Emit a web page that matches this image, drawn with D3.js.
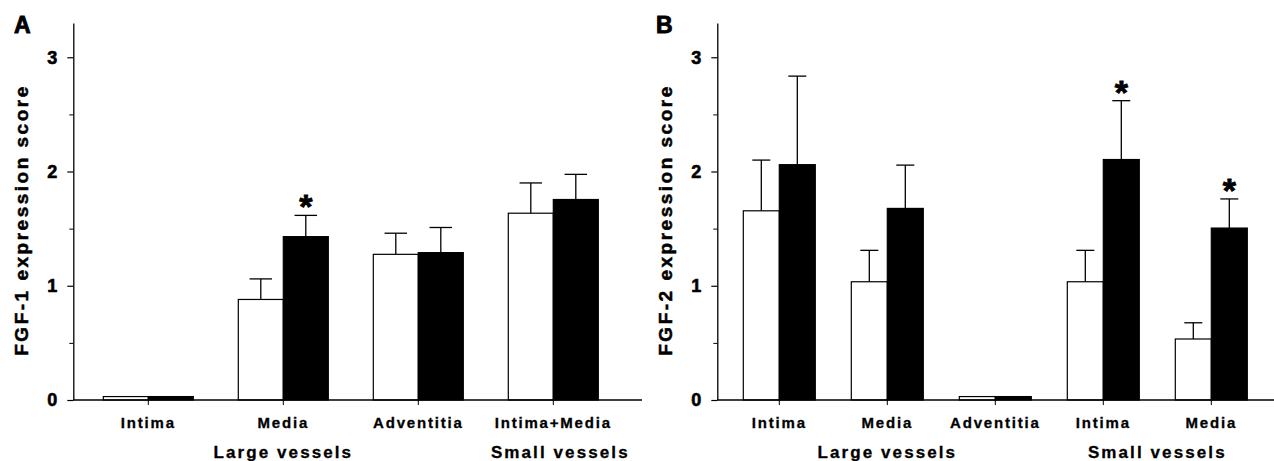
<!DOCTYPE html>
<html>
<head>
<meta charset="utf-8">
<script src="https://cdn.jsdelivr.net/npm/d3@7"></script>
<style>
  body { margin: 0; background: #fff; }
  svg { display: block; font-family: "Liberation Sans", Arial, sans-serif; }
</style>
</head>
<body>
<div id="chart"></div>
<script>
// ---- data ----
var fgf1Categories = ["Intima", "Media", "Adventitia", "Intima+Media"];
var fgf1Groups = ["Large vessels", "Large vessels", "Large vessels", "Small vessels"];
var fgf1Control = [0.03, 0.88, 1.275, 1.635];
var fgf1ControlErr = [0, 0.18, 0.185, 0.265];
var fgf1Treated = [0.03, 1.43, 1.29, 1.755];
var fgf1TreatedErr = [0, 0.186, 0.22, 0.22];
var fgf1Signif = [false, true, false, false];

var fgf2Categories = ["Intima", "Media", "Adventitia", "Intima", "Media"];
var fgf2Groups = ["Large vessels", "Large vessels", "Large vessels", "Small vessels", "Small vessels"];
var fgf2Control = [1.656, 1.035, 0.03, 1.035, 0.534];
var fgf2ControlErr = [0.444, 0.275, 0, 0.275, 0.142];
var fgf2Treated = [2.06, 1.677, 0.03, 2.105, 1.505];
var fgf2TreatedErr = [0.775, 0.379, 0, 0.515, 0.255];
var fgf2Signif = [false, false, false, true, true];

var yMajorTicks = [0, 1, 2, 3];
var yMinorTicks = [0.5, 1.5, 2.5];
var seriesKeys = ["control", "treated"];

var W = 1274, H = 461;
var svg = d3.select('#chart').append('svg')
    .attr('width', W)
    .attr('height', H);

function drawPanel(opt) {
    var g = svg.append('g').attr('class', 'panel-' + opt.letter);

    var y = d3.scaleLinear()
        .domain([0, 3.3])
        .range([400, 23]);

    var idx = d3.range(opt.categories.length);
    var x = d3.scaleBand()
        .domain(idx)
        .range([opt.bandStart, opt.bandStart + opt.step * idx.length])
        .paddingInner(1 / 3)
        .paddingOuter(1 / 6);

    var xSub = d3.scaleBand()
        .domain(seriesKeys)
        .range([0, x.bandwidth()]);

    var fills = { control: '#fff', treated: '#000' };

    var rows = [];
    idx.forEach(function(i) {
        rows.push({ i: i, key: 'control', v: opt.control[i], e: opt.controlErr[i], sig: false });
        rows.push({ i: i, key: 'treated', v: opt.treated[i], e: opt.treatedErr[i], sig: opt.signif[i] });
    });

    // error bars (upper only)
    var eb = g.append('g').attr('class', 'errbars');
    rows.filter(function(d) { return d.e > 0; }).forEach(function(d) {
        var cx = x(d.i) + xSub(d.key) + xSub.bandwidth() / 2;
        var half = xSub.bandwidth() / 4;
        eb.append('line')
            .attr('x1', cx).attr('x2', cx)
            .attr('y1', y(d.v)).attr('y2', y(d.v + d.e))
            .attr('stroke', '#000').attr('stroke-width', 1.3);
        eb.append('line')
            .attr('x1', cx - half).attr('x2', cx + half)
            .attr('y1', y(d.v + d.e)).attr('y2', y(d.v + d.e))
            .attr('stroke', '#000').attr('stroke-width', 1.3);
        if (d.sig) {
            eb.append('text')
                .attr('x', cx)
                .attr('y', y(d.v + d.e) + 3)
                .attr('text-anchor', 'middle')
                .attr('font-size', 34)
                .attr('font-weight', 'bold')
                .attr('stroke', '#000')
                .attr('stroke-width', 0.8)
                .text('*');
        }
    });

    g.append('g').selectAll('rect')
        .data(rows)
        .enter().append('rect')
        .attr('x', function(d) { return x(d.i) + xSub(d.key); })
        .attr('y', function(d) { return y(d.v); })
        .attr('width', xSub.bandwidth())
        .attr('height', function(d) { return y(0) - y(d.v); })
        .attr('fill', function(d) { return fills[d.key]; })
        .attr('stroke', '#000')
        .attr('stroke-width', 1.2);

    // y axis
    var yAxis = g.append('g')
        .attr('transform', 'translate(' + opt.axisX + ',0)')
        .call(d3.axisLeft(y).tickValues(yMajorTicks).tickSize(6).tickSizeOuter(0).tickPadding(10)
            .tickFormat(d3.format('d')));
    yAxis.selectAll('text')
        .attr('font-size', 18)
        .attr('font-weight', 'bold')
        .attr('font-family', '"Liberation Sans", Arial, sans-serif')
        .attr('fill', '#000')
        .attr('stroke', '#000')
        .attr('stroke-width', 0.6);
    yAxis.select('.domain').attr('stroke-width', 1.3);
    yAxis.selectAll('.tick line').attr('stroke-width', 1.2);

    g.append('g')
        .attr('transform', 'translate(' + opt.axisX + ',0)')
        .call(d3.axisLeft(y).tickValues(yMinorTicks).tickSize(4).tickFormat(''))
        .call(function(a) { a.select('.domain').remove(); });

    // x axis
    var xAxis = g.append('g')
        .attr('transform', 'translate(0,' + y(0) + ')')
        .call(d3.axisBottom(x).tickSize(5).tickSizeOuter(0).tickPadding(12)
            .tickFormat(function(i) { return opt.categories[i]; }));
    xAxis.select('.domain').remove();
    xAxis.selectAll('text')
        .attr('font-size', 15)
        .attr('font-weight', 'bold')
        .attr('letter-spacing', 1.8)
        .attr('font-family', '"Liberation Sans", Arial, sans-serif')
        .attr('fill', '#000')
        .attr('stroke', '#000')
        .attr('stroke-width', 0.3);
    xAxis.append('line')
        .attr('x1', opt.axisX).attr('x2', opt.axisEnd)
        .attr('y1', 0).attr('y2', 0)
        .attr('stroke', '#000').attr('stroke-width', 1.3);

    // vessel group labels
    var groups = d3.groups(idx, function(i) { return opt.groups[i]; });
    g.append('g').selectAll('text')
        .data(groups)
        .enter().append('text')
        .attr('x', function(d) {
            return d3.mean(d[1], function(i) { return x(i) + x.bandwidth() / 2; }) + opt.groupShift(d[0]);
        })
        .attr('y', 458)
        .attr('text-anchor', 'middle')
        .attr('font-size', 17)
        .attr('font-weight', 'bold')
        .attr('letter-spacing', 2.1)
        .attr('stroke', '#000')
        .attr('stroke-width', 0.3)
        .text(function(d) { return d[0]; });

    // y axis title
    g.append('text')
        .attr('transform', 'translate(' + opt.titleX + ',220) rotate(-90)')
        .attr('text-anchor', 'middle')
        .attr('font-size', 19)
        .attr('font-weight', 'bold')
        .attr('letter-spacing', 2.5)
        .attr('stroke', '#000')
        .attr('stroke-width', 0.5)
        .text(opt.yTitle);

    // panel letter
    g.append('text')
        .attr('x', opt.letterX)
        .attr('y', 33)
        .attr('font-size', 23)
        .attr('font-weight', 'bold')
        .attr('stroke', '#000')
        .attr('stroke-width', 0.9)
        .text(opt.letter);
}

drawPanel({
    letter: 'A', letterX: 14, titleX: 28,
    yTitle: 'FGF-1 expression score',
    axisX: 73.3, axisEnd: 642, bandStart: 80.8, step: 135,
    categories: fgf1Categories, groups: fgf1Groups,
    control: fgf1Control, controlErr: fgf1ControlErr,
    treated: fgf1Treated, treatedErr: fgf1TreatedErr,
    signif: fgf1Signif,
    groupShift: function(name) { return name === 'Small vessels' ? 7 : 0; }
});

drawPanel({
    letter: 'B', letterX: 656, titleX: 672,
    yTitle: 'FGF-2 expression score',
    axisX: 717.3, axisEnd: 1274, bandStart: 725.3, step: 108,
    categories: fgf2Categories, groups: fgf2Groups,
    control: fgf2Control, controlErr: fgf2ControlErr,
    treated: fgf2Treated, treatedErr: fgf2TreatedErr,
    signif: fgf2Signif,
    groupShift: function(name) { return 0; }
});
</script>
</body>
</html>
